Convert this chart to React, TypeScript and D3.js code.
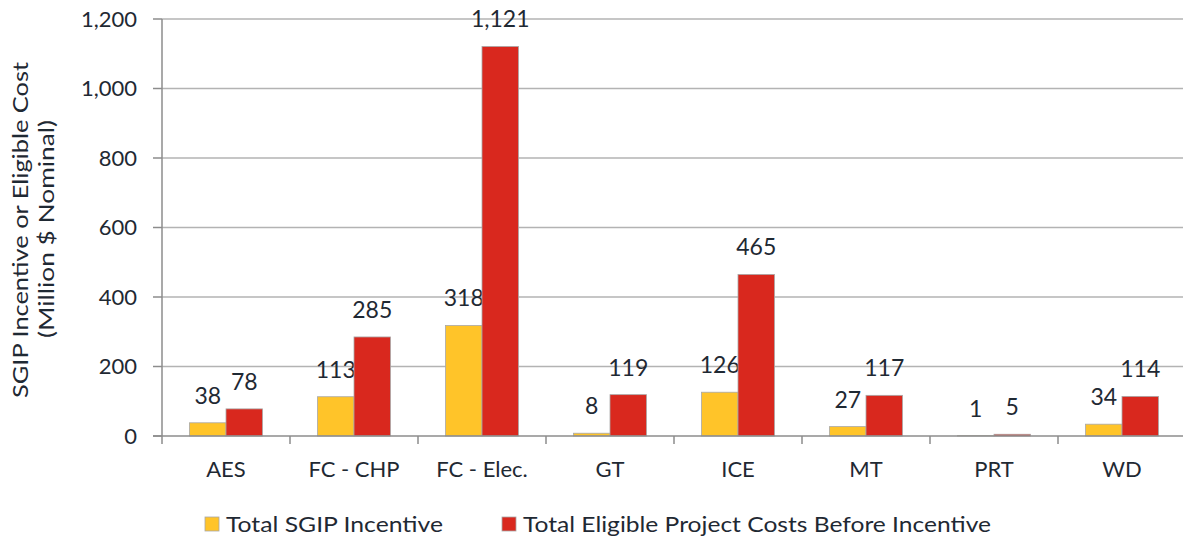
import React from 'react';
import * as d3 from 'd3';

// chart data
const categories = ['AES', 'FC - CHP', 'FC - Elec.', 'GT', 'ICE', 'MT', 'PRT', 'WD'];
const seriesNames = ['Total SGIP Incentive', 'Total Eligible Project Costs Before Incentive'];
const incentive = [38, 113, 318, 8, 126, 27, 1, 34];
const eligibleCost = [78, 285, 1121, 119, 465, 117, 5, 114];
const yTicks = [0, 200, 400, 600, 800, 1000, 1200];
const colors = ['#FFC429', '#D9281E'];

const W = 1183;
const H = 540;
const FONT = 'Lato, "Open Sans", sans-serif';
const TEXT = '#1f2933';

const App = () => {
  const x = d3.scaleBand<string>().domain(categories).range([162, 162 + 128 * 8]).padding(0);
  const y = d3.scaleLinear().domain([0, 1200]).range([436, 19]);
  const bw = x.bandwidth();
  const barW = 36.5;
  const xs = d3.scaleBand<string>().domain(seriesNames).range([bw / 2 - barW, bw / 2 + barW]);
  const series = [incentive, eligibleCost];
  const fmt = d3.format(',');

  return (
    <div style={{ position: 'absolute', left: 0, top: 0 }}>
      <svg width={W} height={H} style={{ display: 'block', background: '#fff' }} fontFamily={FONT}>
        {/* gridlines */}
        {yTicks.filter(t => t > 0).map(t => (
          <line key={t} x1={162} x2={W} y1={y(t)} y2={y(t)} stroke="#b3b3b3" strokeWidth={1.5} />
        ))}
        {/* y ticks + labels */}
        {yTicks.map(t => (
          <g key={t}>
            <line x1={153} x2={162} y1={y(t)} y2={y(t)} stroke="#8c8c8c" strokeWidth={1.5} />
            <text x={137} y={y(t)} dy="0.36em" textAnchor="end" fontSize={22} fill={TEXT}>
              {fmt(t)}
            </text>
          </g>
        ))}
        {/* bars */}
        {series.map((vals, si) =>
          categories.map((c, i) => {
            const bx = (x(c) as number) + (xs(seriesNames[si]) as number);
            const by = y(vals[i]);
            return (
              <g key={`${si}-${c}`}>
                <rect
                  x={bx}
                  y={by}
                  width={xs.bandwidth()}
                  height={y(0) - by}
                  fill={colors[si]}
                  stroke="#a8a8a8"
                  strokeWidth={0.8}
                />
                <text x={bx + xs.bandwidth() / 2} y={by - 19} textAnchor="middle" fontSize={23} fill={TEXT}>
                  {fmt(vals[i])}
                </text>
              </g>
            );
          })
        )}
        {/* axes */}
        <line x1={162} x2={162} y1={y(1200)} y2={y(0)} stroke="#8c8c8c" strokeWidth={1.5} />
        <line x1={153} x2={W} y1={y(0)} y2={y(0)} stroke="#8c8c8c" strokeWidth={1.5} />
        {categories.map(c => (
          <g key={c}>
            <line x1={x(c)} x2={x(c)} y1={y(0)} y2={y(0) + 8} stroke="#8c8c8c" strokeWidth={1.5} />
            <text x={(x(c) as number) + bw / 2} y={477} textAnchor="middle" fontSize={22} fill={TEXT}>
              {c}
            </text>
          </g>
        ))}
        {/* y axis title */}
        <g transform="translate(28,230) rotate(-90)">
          <text textAnchor="middle" fontSize={22} fill={TEXT} textLength={336} lengthAdjust="spacingAndGlyphs">
            SGIP Incentive or Eligible Cost
          </text>
        </g>
        <g transform="translate(54,229) rotate(-90)">
          <text textAnchor="middle" fontSize={22} fill={TEXT} textLength={218} lengthAdjust="spacingAndGlyphs">
            (Million $ Nominal)
          </text>
        </g>
        {/* legend */}
        {seriesNames.map((s, i) => {
          const lx = [205, 502][i];
          const tl = [217, 468][i];
          return (
            <g key={s}>
              <rect x={lx} y={517} width={14} height={14} fill={colors[i]} stroke="#a8a8a8" strokeWidth={0.8} />
              <text x={lx + 21} y={532} fontSize={21} fill={TEXT} textLength={tl} lengthAdjust="spacingAndGlyphs">
                {s}
              </text>
            </g>
          );
        })}
      </svg>
    </div>
  );
};

export default App;
